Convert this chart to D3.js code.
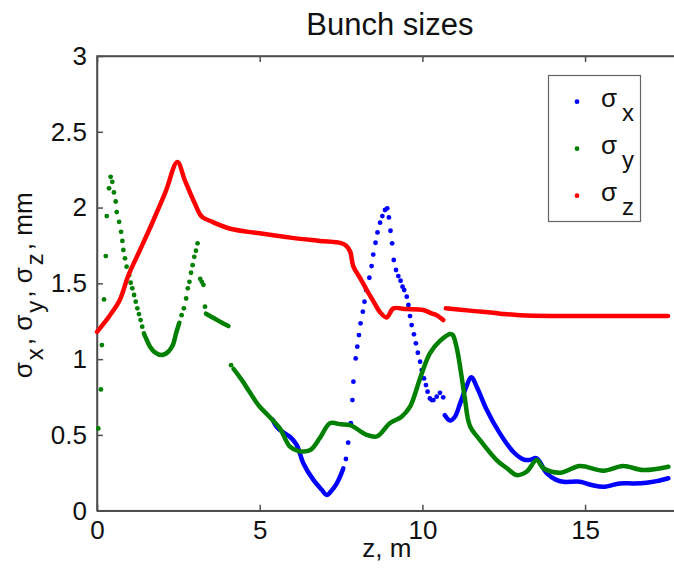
<!DOCTYPE html>
<html>
<head>
<meta charset="utf-8">
<script src="https://cdn.jsdelivr.net/npm/d3@7"></script>
<style>
  body { margin: 0; background: #fff; }
  svg { display: block; font-family: Arial, "Liberation Sans", Helvetica, sans-serif; }
</style>
</head>
<body>
<script>
// tick values
var zTicks = [0, 5, 10, 15];
var sizeTicks = [0, 0.5, 1, 1.5, 2, 2.5, 3];
var legendNames = ["x", "y", "z"];
var colors = ["#0000ff", "#008000", "#ff0000"];

// sigma x: [z (m), size (mm)]
var sigmaXTrack1 = [[5.4, 0.60], [5.52, 0.554], [5.7, 0.52], [5.93, 0.488], [6.14, 0.433], [6.34, 0.313],
  [6.65, 0.203], [6.9, 0.14], [7.06, 0.104], [7.2, 0.13], [7.37, 0.18], [7.5, 0.24], [7.57, 0.28]];
var sigmaXDots = [[7.65, 0.341], [7.72, 0.449], [7.80, 0.577], [7.85, 0.73], [7.88, 0.851], [7.95, 1.005],
  [8.0, 1.082], [8.05, 1.159], [8.1, 1.236], [8.17, 1.313], [8.22, 1.379], [8.27, 1.456], [8.37, 1.537],
  [8.44, 1.614], [8.49, 1.69], [8.56, 1.768], [8.62, 1.836], [8.70, 1.90], [8.77, 1.944], [8.85, 1.984],
  [8.92, 1.995], [8.97, 1.935], [9.02, 1.847], [9.07, 1.764], [9.12, 1.654], [9.19, 1.588], [9.26, 1.548],
  [9.33, 1.517], [9.39, 1.478], [9.44, 1.456], [9.52, 1.412], [9.57, 1.357], [9.62, 1.284], [9.67, 1.225],
  [9.74, 1.164], [9.80, 1.104], [9.86, 1.042], [9.93, 0.983], [9.98, 0.928], [10.05, 0.873], [10.11, 0.829],
  [10.16, 0.785], [10.23, 0.741], [10.29, 0.73], [10.34, 0.73], [10.44, 0.752], [10.54, 0.778], [10.64, 0.748]];
var sigmaXTrack2 = [[10.69, 0.63], [10.85, 0.595], [11.0, 0.62], [11.16, 0.708], [11.31, 0.796], [11.51, 0.88],
  [11.67, 0.818], [11.98, 0.664], [12.38, 0.51], [12.79, 0.389], [13.1, 0.339], [13.3, 0.335], [13.51, 0.346],
  [13.82, 0.247], [14.1, 0.205], [14.33, 0.191], [14.84, 0.191], [15.2, 0.17], [15.56, 0.158], [16.07, 0.18],
  [16.5, 0.18], [16.89, 0.185], [17.2, 0.195], [17.56, 0.214]];

// sigma y
var sigmaYDots = [[0.04, 0.543], [0.12, 0.80], [0.15, 1.093], [0.215, 1.394], [0.27, 1.68], [0.30, 1.944],
  [0.37, 2.127], [0.42, 2.203], [0.47, 2.17], [0.52, 2.10], [0.575, 2.04], [0.605, 1.97], [0.68, 1.906],
  [0.74, 1.84], [0.78, 1.78], [0.81, 1.72], [0.86, 1.665], [0.91, 1.61], [0.99, 1.555], [1.035, 1.504],
  [1.085, 1.467], [1.14, 1.423], [1.19, 1.379], [1.24, 1.335], [1.29, 1.297], [1.34, 1.258], [1.39, 1.214],
  [2.6, 1.29], [2.67, 1.335], [2.74, 1.40], [2.79, 1.467], [2.84, 1.51], [2.89, 1.57], [2.94, 1.62],
  [2.99, 1.675], [3.04, 1.715], [3.09, 1.764], [3.17, 1.53], [3.22, 1.51], [3.27, 1.49], [3.32, 1.346],
  [4.12, 0.96]];
var sigmaYTrack1 = [[1.44, 1.17], [1.53, 1.126], [1.63, 1.082], [1.78, 1.045], [1.99, 1.027], [2.19, 1.049],
  [2.33, 1.093], [2.43, 1.17], [2.53, 1.24]];
var sigmaYTrack2 = [[3.35, 1.30], [3.6, 1.27], [3.8, 1.245], [4.04, 1.218]];
var sigmaYTrack3 = [[4.2, 0.935], [4.45, 0.862], [4.7, 0.78], [4.96, 0.697], [5.3, 0.62], [5.62, 0.543],
  [5.93, 0.422], [6.19, 0.394], [6.55, 0.40], [6.85, 0.48], [7.16, 0.577], [7.5, 0.57], [7.78, 0.565],
  [8.29, 0.50], [8.60, 0.49], [9.0, 0.577], [9.36, 0.62], [9.62, 0.686], [9.93, 0.874], [10.23, 1.038],
  [10.54, 1.12], [10.85, 1.166], [10.93, 1.16], [11.05, 1.08], [11.18, 0.92], [11.3, 0.75], [11.46, 0.56],
  [11.77, 0.466], [12.28, 0.334], [12.6, 0.28], [12.90, 0.235], [13.2, 0.257], [13.51, 0.334], [13.72, 0.28],
  [14.23, 0.251], [14.84, 0.295], [15.56, 0.264], [16.17, 0.295], [16.79, 0.268], [17.56, 0.29]];

// sigma z
var sigmaZTrack1 = [[0, 1.18], [0.4, 1.29], [0.7, 1.39], [0.96, 1.55], [1.3, 1.71], [1.7, 1.90], [2.1, 2.10],
  [2.47, 2.30], [2.7, 2.18], [3.0, 2.03], [3.22, 1.94], [3.5, 1.91], [4.1, 1.86], [5.0, 1.83], [6.0, 1.80],
  [6.85, 1.78], [7.5, 1.765], [7.65, 1.75], [7.78, 1.71], [7.88, 1.61], [8.1, 1.53], [8.29, 1.456], [8.5, 1.38],
  [8.70, 1.31], [8.90, 1.275], [9.11, 1.335], [9.5, 1.33], [10.03, 1.324], [10.3, 1.30], [10.44, 1.29],
  [10.64, 1.258]];
var sigmaZTrack2 = [[10.72, 1.335], [11.46, 1.32], [12.4, 1.30], [13.0, 1.29], [14, 1.285], [15, 1.285],
  [16, 1.285], [17.55, 1.285]];

var w = 674, h = 571;
var plotLeft = 97, plotTop = 56, plotBottom = 510.7;

var svg = d3.select("body").append("svg")
  .attr("width", w)
  .attr("height", h);

var xScale = d3.scaleLinear().domain([0, 18]).range([plotLeft, 682.7]);
var yScale = d3.scaleLinear().domain([0, 3]).range([plotBottom, plotTop]);

var axisColor = "#4d4d4d";
var fmt = function(d) { return String(d); };

// axes box
svg.append("rect")
  .attr("x", xScale(0)).attr("y", yScale(3))
  .attr("width", xScale(18) - xScale(0)).attr("height", yScale(0) - yScale(3))
  .attr("fill", "none").attr("stroke", axisColor).attr("stroke-width", 1.5);

var xAxis = svg.append("g")
  .attr("transform", "translate(0," + plotBottom + ")")
  .call(d3.axisBottom(xScale).tickValues(zTicks).tickFormat(fmt).tickSizeInner(-6).tickSizeOuter(0).tickPadding(10));
var xTop = svg.append("g")
  .attr("transform", "translate(0," + plotTop + ")")
  .call(d3.axisTop(xScale).tickValues(zTicks).tickFormat("").tickSizeInner(-6).tickSizeOuter(0));
var yAxis = svg.append("g")
  .attr("transform", "translate(" + plotLeft + ",0)")
  .call(d3.axisLeft(yScale).tickValues(sizeTicks).tickFormat(fmt).tickSizeInner(-6).tickSizeOuter(0).tickPadding(10));

[xAxis, xTop, yAxis].forEach(function(a) {
  a.select(".domain").attr("stroke", axisColor).attr("stroke-width", 1.5);
  a.selectAll(".tick line").attr("stroke", axisColor).attr("stroke-width", 1.5);
  a.selectAll(".tick text").attr("fill", "#111").style("font-size", "26px").style("font-family", null);
});
xAxis.selectAll(".tick text").attr("y", 10).attr("dy", "0.71em");

// title and labels
svg.append("text")
  .attr("x", (xScale(0) + xScale(18)) / 2).attr("y", 35)
  .attr("text-anchor", "middle").style("font-size", "31px").attr("fill", "#111")
  .text("Bunch sizes");

svg.append("text")
  .attr("x", (xScale(0) + xScale(18)) / 2 - 3).attr("y", 557)
  .attr("text-anchor", "middle").style("font-size", "26px").attr("fill", "#111")
  .text("z, m");

var ylab = svg.append("text")
  .attr("transform", "translate(32," + ((plotTop + plotBottom) / 2 + 2) + ") rotate(-90)")
  .attr("text-anchor", "middle").style("font-size", "26px").attr("fill", "#111");
legendNames.forEach(function(n) {
  ylab.append("tspan").text("σ");
  ylab.append("tspan").attr("dy", 11).attr("dx", 2).style("font-size", "24px").text(n);
  ylab.append("tspan").attr("dy", -11).attr("dx", 3).text(", ");
});
ylab.append("tspan").text("mm");

// data
var line = d3.line()
  .curve(d3.curveCatmullRom.alpha(0.5))
  .x(function(d) { return xScale(d[0]); })
  .y(function(d) { return yScale(d[1]); });
var plot = svg.append("g");

function drawSeries(tracks, dots, color) {
  tracks.forEach(function(t) {
    plot.append("path").datum(t)
      .attr("d", line)
      .attr("fill", "none")
      .attr("stroke", color)
      .attr("stroke-width", 4.5)
      .attr("stroke-linecap", "round")
      .attr("stroke-linejoin", "round");
  });
  plot.selectAll(null).data(dots).enter().append("circle")
    .attr("cx", function(d) { return xScale(d[0]); })
    .attr("cy", function(d) { return yScale(d[1]); })
    .attr("r", 2.4)
    .attr("fill", color);
}

drawSeries([sigmaXTrack1, sigmaXTrack2], sigmaXDots, colors[0]);
drawSeries([sigmaYTrack1, sigmaYTrack2, sigmaYTrack3], sigmaYDots, colors[1]);
drawSeries([sigmaZTrack1, sigmaZTrack2], [], colors[2]);

// legend
var legend = svg.append("g");
legend.append("rect")
  .attr("x", 548.5).attr("y", 75.5).attr("width", 92).attr("height", 146)
  .attr("fill", "#fff").attr("stroke", "#666").attr("stroke-width", 1.2);

var item = legend.selectAll(".item")
  .data(legendNames)
  .enter().append("g")
  .attr("class", "item")
  .attr("transform", function(d, i) { return "translate(0," + (i * 47) + ")"; });

item.append("circle")
  .attr("cx", 577).attr("cy", 101.7).attr("r", 2.4)
  .attr("fill", function(d, i) { return colors[i]; });

var lt = item.append("text")
  .attr("x", 601).attr("y", 106.5)
  .style("font-size", "26px").attr("fill", "#111");
lt.append("tspan").text("σ");
lt.append("tspan").attr("dx", 5).attr("dy", 14).style("font-size", "24px").text(function(d) { return d; });
</script>
</body>
</html>
